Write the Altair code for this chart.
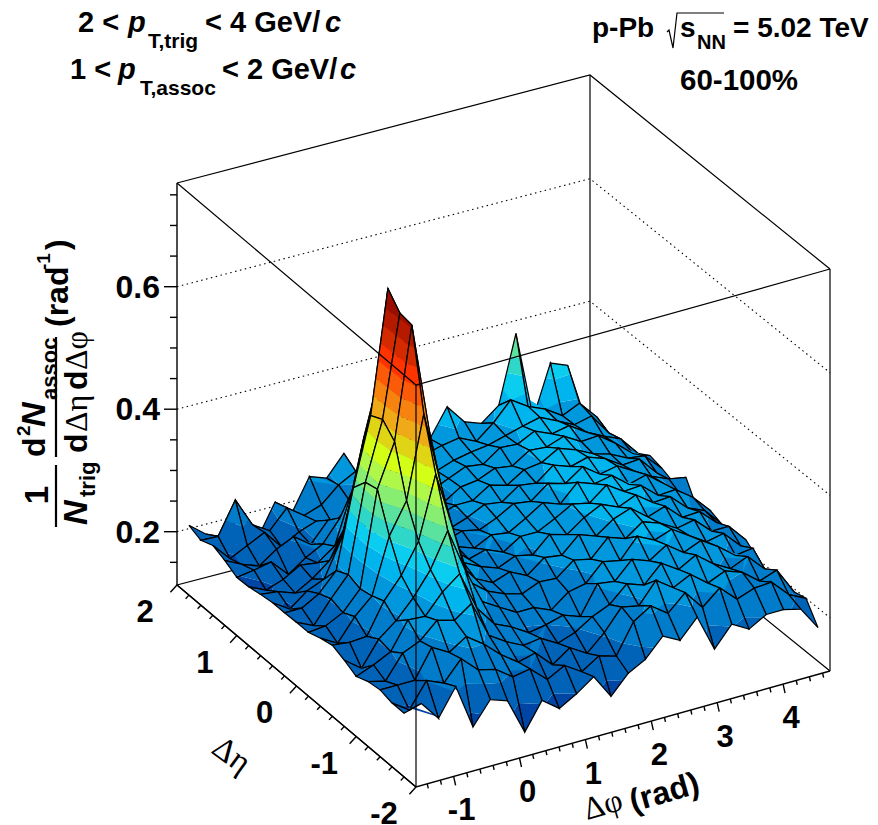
import altair as alt

# dN/dΔηdΔφ, one list per Δη row, 25 Δφ nodes (-π/2 .. 3π/2), in 1/1000
z_eta_p18 = [227,205,193,220,177,228,204,255,245,278,220,240,240,250,265,310,278,268,290,400,255,337,326,234,200]
z_eta_p16 = [219,218,270,222,205,235,215,225,250,265,235,245,250,262,270,275,262,285,315,297,285,267,280,250,205]
z_eta_p14 = [227,198,212,226,195,212,222,208,238,228,225,238,246,252,262,268,272,280,288,295,282,268,275,240,193]
z_eta_p12 = [219,205,195,215,228,208,240,226,218,236,240,234,244,256,268,264,284,282,296,284,290,272,258,246,215]
z_eta_p10 = [208,212,218,190,210,225,260,232,240,226,238,246,240,258,262,274,270,288,286,296,280,282,262,238,227]
z_eta_p08 = [209,196,206,222,218,238,320,262,240,244,234,242,252,252,270,262,280,284,300,290,276,268,254,250,222]
z_eta_p06 = [213,210,200,216,238,290,425,305,258,238,246,238,248,262,258,278,274,296,286,294,284,266,268,238,214]
z_eta_p04 = [216,198,220,232,290,400,519,395,285,250,240,250,244,256,272,268,290,282,302,282,288,272,256,244,239]
z_eta_p02 = [216,216,232,262,390,500,700,505,300,258,248,238,252,248,264,282,272,300,290,296,274,282,260,234,200]
z_eta_000 = [217,204,240,272,415,510,676,520,310,268,244,252,240,258,258,272,288,282,304,286,288,264,266,246,217]
z_eta_m02 = [217,220,234,265,420,490,673,495,300,262,248,238,250,244,270,262,282,296,284,296,276,278,252,240,210]
z_eta_m04 = [224,208,244,270,360,410,544,420,285,252,238,248,234,256,252,278,268,288,298,276,286,260,262,236,213]
z_eta_m06 = [229,226,228,278,312,360,462,365,270,248,236,228,240,238,260,254,282,272,292,282,266,272,246,246,216]
z_eta_m08 = [221,200,240,262,292,330,386,315,255,238,222,222,210,232,238,266,260,292,278,288,270,252,258,230,200]
z_eta_m10 = [211,222,236,280,278,310,332,268,235,222,205,210,218,208,254,250,278,268,286,266,278,260,238,242,185]
z_eta_m12 = [219,212,250,262,288,280,300,240,222,208,212,196,206,224,236,262,252,280,262,278,256,240,252,224,186]
z_eta_m14 = [222,222,222,268,252,270,250,225,205,212,185,205,188,214,248,242,276,256,270,248,260,250,228,238,195]
z_eta_m16 = [217,198,238,226,258,232,225,205,210,185,200,182,200,192,240,258,238,264,232,256,230,240,242,214,200]
z_eta_m18 = [217,225,193,237,163,200,190,131,175,154,170,190,150,180,195,225,210,240,180,213,197,213,213,206,168]
z_rows = [z_eta_m18,z_eta_m16,z_eta_m14,z_eta_m12,z_eta_m10,z_eta_m08,z_eta_m06,z_eta_m04,z_eta_m02,z_eta_000,
          z_eta_p02,z_eta_p04,z_eta_p06,z_eta_p08,z_eta_p10,z_eta_p12,z_eta_p14,z_eta_p16,z_eta_p18]

band_colors = ["#0044a4","#0063b8","#007cca","#0097dc","#00b5ee","#0bcdf0","#2fd7c8","#5ae29e","#88ee72","#aff84a",
               "#d2ff15","#e0d515","#efaa18","#f6820f","#fb5a08","#ff3300","#d42a00","#b51a00","#9a0e00","#7f0000"]
band_edges = [0.17,0.21,0.25,0.285,0.315,0.34,0.365,0.39,0.415,0.44,
              0.4685,0.497,0.5255,0.554,0.5825,0.611,0.64,0.668,0.697]

z_major = [0.2, 0.4, 0.6]
z_minor = [0.15, 0.25, 0.3, 0.35, 0.45, 0.5, 0.55, 0.65, 0.7, 0.75]
phi_major = [-1, 0, 1, 2, 3, 4]
phi_minor = [-1.4,-1.2,-0.8,-0.6,-0.4,-0.2,0.2,0.4,0.6,0.8,1.2,1.4,1.6,1.8,2.2,2.4,2.6,2.8,3.2,3.4,3.6,3.8,4.2,4.4,4.6]
eta_major = [-2, -1, 0, 1, 2]
eta_minor = [-1.8,-1.6,-1.4,-1.2,-0.8,-0.6,-0.4,-0.2,0.2,0.4,0.6,0.8,1.2,1.4,1.6,1.8]

# 3D box on the page
M = 8
F, R, L, B = (416-M, 787-M), (830-M, 671-M), (177-M, 585-M), (590-M, 477-M)
Z0, Z1, ZPX = 0.113, 0.7693, 612.5
PI = 3.14159265
PROJ = dict(type="identity", scale=1, translate=[0, 0])

def proj(u, v, z=Z0):
    def c(k):
        return F[k] + u*(R[k]-F[k]) + v*(L[k]-F[k]) + u*v*(B[k]-R[k]-L[k]+F[k])
    return [c(0), c(1) - (z-Z0)*ZPX]

def uphi(p):
    return (p+PI/2)/(2*PI)

def veta(e):
    return (e+2)/4

def line(pts):
    return {"type": "Feature", "properties": {}, "geometry": {"type": "LineString", "coordinates": pts}}

def clip(poly, lvl, keep_above):
    out = []
    n = len(poly)
    for a in range(n):
        p, q = poly[a], poly[(a+1) % n]
        pin = (p[2] >= lvl) if keep_above else (p[2] <= lvl)
        qin = (q[2] >= lvl) if keep_above else (q[2] <= lvl)
        if pin:
            out.append(p)
        if pin != qin:
            t = (lvl-p[2])/(q[2]-p[2])
            out.append([p[0]+t*(q[0]-p[0]), p[1]+t*(q[1]-p[1]), lvl])
    return out

def node(i, j):
    z = z_rows[j][i]/1000
    x, y = proj(i/24, 0.05+0.05*j, z)
    # the low left-hand part of the surface is coloured darker than its drawn height
    w = z - 0.04*max(0, 1-i/6)
    return [x, y, w]

features = []
for j in range(17, -1, -1):
    for i in range(23, -1, -1):
        quad = [node(i, j), node(i+1, j), node(i+1, j+1), node(i, j+1)]
        for b, col in enumerate(band_colors):
            poly = quad
            if b > 0:
                poly = clip(poly, band_edges[b-1], True)
            if poly and b < len(band_colors)-1:
                poly = clip(poly, band_edges[b], False)
            if len(poly) >= 3:
                ring = [[p[0], p[1]] for p in poly]
                ring.append(ring[0])
                features.append({"type": "Feature", "properties": {"c": col, "s": "transparent", "w": 0},
                                 "geometry": {"type": "Polygon", "coordinates": [ring]}})
        ring = [[p[0], p[1]] for p in quad]
        ring.append(ring[0])
        features.append({"type": "Feature", "properties": {"c": "transparent", "s": "#000000", "w": 1.25},
                         "geometry": {"type": "Polygon", "coordinates": [ring]}})

def lines(feats, width, dash=None):
    kw = {"filled": False, "stroke": "#000000", "strokeWidth": width}
    if dash:
        kw["strokeDash"] = dash
    return alt.Chart(alt.Data(values=feats)).mark_geoshape(**kw).project(**PROJ)

surface = alt.Chart(alt.Data(values=features)).mark_geoshape().encode(
    fill=alt.Fill("properties.c:N", scale=None),
    stroke=alt.Stroke("properties.s:N", scale=None),
    strokeWidth=alt.StrokeWidth("properties.w:Q", scale=None),
).project(**PROJ)

back_box = [
    line([proj(0, 1, Z1), proj(1, 1, Z1), proj(1, 0, Z1)]),
    line([proj(0, 0), proj(0, 1), proj(1, 1), proj(1, 0)]),
    line([proj(1, 1), proj(1, 1, Z1)]),
]
grid = []
for z in z_major:
    grid.append(line([proj(0, 1, z), proj(1, 1, z), proj(1, 0, z)]))
front_box = [
    line([proj(0, 1, Z1), proj(0, 0, Z1), proj(1, 0, Z1)]),
    line([proj(0, 0), proj(0, 0, Z1)]),
    line([proj(1, 0), proj(1, 0, Z1)]),
]
axes = [
    line([proj(0, 1), proj(0, 1, Z1)]),
    line([proj(0, 1), proj(0, 0), proj(1, 0)]),
]
def tick(p, d):
    return line([p, [p[0]+d[0], p[1]+d[1]]])
for z in z_major:
    axes.append(tick(proj(0, 1, z), (-13, 0)))
for z in z_minor:
    axes.append(tick(proj(0, 1, z), (-7, 0)))
for p in phi_major:
    axes.append(tick(proj(uphi(p), 0), (2, 9)))
for p in phi_minor:
    axes.append(tick(proj(uphi(p), 0), (1, 4.5)))
for e in eta_major:
    axes.append(tick(proj(0, veta(e)), (-6.6, 7.3)))
for e in eta_minor:
    axes.append(tick(proj(0, veta(e)), (-3.3, 3.6)))

def text(items, size, angle=0, align="left", font="Liberation Sans", weight="bold", style="normal", baseline="alphabetic"):
    vals = [{"t": t, "x": x-M, "y": y-M} for t, x, y in items]
    return alt.Chart(alt.Data(values=vals)).mark_text(
        fontSize=size, angle=angle, align=align, font=font, fontWeight=weight, fontStyle=style,
        baseline=baseline, color="#000000"
    ).encode(longitude="x:Q", latitude="y:Q", text="t:N").project(**PROJ)

z_labels = [(f"{z:.1f}", 160, proj(0, 1, z)[1]+M+11) for z in z_major]
phi_labels = [(str(p), proj(uphi(p), 0)[0]+M+8, proj(uphi(p), 0)[1]+M+44) for p in phi_major]
eta_labels = [(str(e), proj(0, veta(e))[0]+M-32, proj(0, veta(e))[1]+M+37) for e in eta_major]

sqrt_path = [line([[667-M, 32-M], [669-M, 30-M], [673-M, 48-M], [677-M, 13-M], [724-M, 13-M]])]
frac = [line([[56-M, 465-M], [56-M, 527-M]]), line([[56-M, 337-M], [56-M, 457-M]])]

layers = [
    lines(back_box, 1.2),
    lines(grid, 1.1, [1.5, 3.5]),
    surface,
    lines(front_box, 1.2),
    lines(axes, 1.4),
    lines(sqrt_path, 1.2),
    lines(frac, 2.2),
    text(z_labels, 32, align="right"),
    text(phi_labels, 31, align="center"),
    text(eta_labels, 31, align="center"),
    text([("Δη", 210, 752)], 33, angle=36, font="Liberation Serif", weight="normal"),
    text([("Δφ", 587, 820)], 32, angle=344, font="Liberation Serif", weight="normal"),
    text([("(rad)", 633, 812)], 32, angle=344),
    # upper left
    text([("2 <", 78, 32), ("< 4 GeV/", 205, 32), ("1 <", 70, 79), ("< 2 GeV/", 222, 79)], 29),
    text([("p", 128, 32), ("c", 325, 32), ("p", 118, 79), ("c", 340, 79)], 29, style="italic"),
    text([("T,trig", 148, 48), ("T,assoc", 140, 95)], 21),
    # upper right
    text([("p-Pb", 592, 37), ("s", 680, 37), ("= 5.02 TeV", 733, 37)], 28),
    text([("60-100%", 680, 90)], 29.5),
    text([("NN", 697, 49)], 20),
    # z title
    text([("1", 48, 495)], 33, angle=270, align="center"),
    text([("N", 87, 525), ("N", 45, 427)], 34, angle=270, style="italic"),
    text([("trig", 95, 497), ("assoc", 57, 400)], 22, angle=270),
    text([("d", 45, 457), ("d", 87, 453), ("d", 87, 390), ("(rad", 68, 327), (")", 68, 250)], 32, angle=270),
    text([("2", 30, 436), ("-1", 50, 270)], 19, angle=270),
    text([("Δη", 87, 432), ("Δφ", 87, 370)], 32, angle=270, font="Liberation Serif", weight="normal"),
]

chart = alt.layer(*layers).properties(
    width=862, height=817, padding=0, autosize=alt.AutoSizeParams(type="none"), background="white"
).configure_view(stroke=None)

chart.save("out.html", embed_options={"renderer": "svg", "actions": False})
